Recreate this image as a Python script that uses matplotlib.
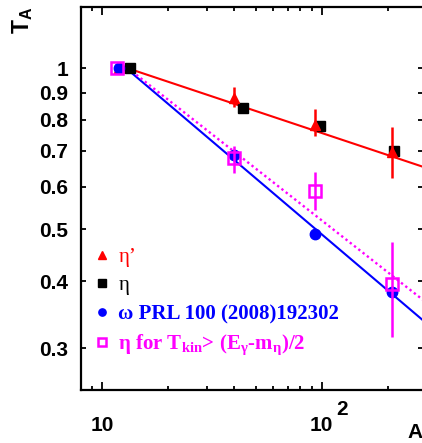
import numpy as np
import matplotlib
matplotlib.use("Agg")
import matplotlib.pyplot as plt
from matplotlib.ticker import FixedLocator, FixedFormatter, NullLocator

plt.rcParams['font.family'] = ['Liberation Sans', 'DejaVu Sans']
plt.rcParams['mathtext.fontset'] = 'custom'
plt.rcParams['mathtext.rm'] = 'Liberation Serif'
plt.rcParams['mathtext.bf'] = 'Liberation Serif:bold'
plt.rcParams['mathtext.sf'] = 'Liberation Sans:bold'

# eta' (red triangles)
A_etap = [12, 40, 93, 208]
T_etap = [1.0, 0.88, 0.783, 0.698]
lo_etap = [1.0, 0.846, 0.745, 0.623]
hi_etap = [1.0, 0.92, 0.839, 0.777]

# eta (black squares)
A_eta = [13.4, 44, 98, 214]
T_eta = [1.0, 0.842, 0.78, 0.70]

# omega PRL 100 (blue circles)
A_omega = [12, 40, 93, 208]
T_omega = [1.0, 0.689, 0.49, 0.381]

# eta for T_kin > (E_g - m_eta)/2 (magenta open squares)
A_cut = [11.7, 40, 93, 208]
T_cut = [1.0, 0.68, 0.59, 0.395]
lo_cut = [1.0, 0.638, 0.542, 0.315]
hi_cut = [1.0, 0.714, 0.639, 0.473]

# fit lines (end points)
fit_red_A, fit_red_T = [13.0, 289], [1.0, 0.654]
fit_blue_A, fit_blue_T = [12.85, 289], [1.0, 0.338]
fit_mag_A, fit_mag_T = [13.1, 289], [1.0, 0.369]

y_ticks = [0.3, 0.4, 0.5, 0.6, 0.7, 0.8, 0.9, 1.0]
y_tick_labels = ['0.3', '0.4', '0.5', '0.6', '0.7', '0.8', '0.9', '1']
x_ticks = [10, 100]
x_tick_base = ['10', '10']
x_tick_exp = ['', '2']
x_minor = [9, 20, 30, 40, 50, 60, 70, 80, 90, 200]

labels = ['η’', 'η', 'ω PRL 100 (2008)192302',
          r'η for T$_{\mathbf{kin}}$> (E$_{\mathbf{γ}}$-m$_{\mathbf{η}}$)/2']

fig = plt.figure(figsize=(4.22, 4.43), dpi=100)
ax = fig.add_axes([81 / 422, 53 / 443, 342 / 422, 383 / 443])
ax.set_xscale('log')
ax.set_yscale('log')

ax.plot(fit_red_A, fit_red_T, color='#ff0000', lw=1.5, zorder=2)
ax.plot(fit_blue_A, fit_blue_T, color='#0000ff', lw=1.5, zorder=2)
ax.plot(fit_mag_A, fit_mag_T, color='#ff00ff', lw=1.7, ls=(0, (1, 1.3)), zorder=2)

T = np.array(T_etap)
h1 = ax.errorbar(A_etap, T_etap, yerr=[T - np.array(lo_etap), np.array(hi_etap) - T],
                 fmt='^', color='#ff0000', ms=7.5, elinewidth=1.8, capsize=0, zorder=4)
h2, = ax.plot(A_eta, T_eta, 's', color='black', ms=7.5, zorder=3)
h3, = ax.plot(A_omega, T_omega, 'o', color='#0000ff', ms=7.5, zorder=5)
T = np.array(T_cut)
h4 = ax.errorbar(A_cut, T_cut, yerr=[T - np.array(lo_cut), np.array(hi_cut) - T],
                 fmt='s', color='#ff00ff', mfc='none', mew=1.8, ms=9, elinewidth=1.8,
                 capsize=0, zorder=6)

ax.set_xlim(8.03, 289)
ax.set_ylim(0.2505, 1.30)

ax.yaxis.set_major_locator(FixedLocator(y_ticks))
ax.yaxis.set_major_formatter(FixedFormatter(y_tick_labels))
ax.yaxis.set_minor_locator(NullLocator())
ax.xaxis.set_major_locator(FixedLocator(x_ticks))
ax.xaxis.set_major_formatter(FixedFormatter(x_tick_base))
ax.xaxis.set_minor_locator(FixedLocator(x_minor))

ax.tick_params(which='both', direction='in', top=True, right=True, width=1.3)
ax.tick_params(axis='x', which='major', length=6, pad=19, labelsize=15)
ax.tick_params(axis='x', which='minor', length=3)
ax.tick_params(axis='y', which='major', length=3.6, pad=9, labelsize=15)
for lab in ax.get_xticklabels() + ax.get_yticklabels():
    lab.set_fontweight('bold')
for s in ax.spines.values():
    s.set_linewidth(1.6)

for xv, e in zip(x_ticks, x_tick_exp):
    if e:
        ax.annotate(e, xy=(xv, 0), xycoords=('data', 'axes fraction'),
                    xytext=(15, -10), textcoords='offset pixels',
                    ha='left', va='top', fontsize=15, fontweight='bold')

ax.set_xlabel('A', fontsize=15, fontweight='bold', ha='right', va='bottom')
ax.xaxis.set_label_coords(1.0, -0.137)
fig.text(10 / 422, 1 - 34 / 443, r'T$_{\mathsf{A}}$', rotation=90, fontsize=16.5,
         fontweight='bold', ha='left', va='bottom')

leg = ax.legend([h1[0], h2, h3, h4[0]], labels, loc='upper left',
                bbox_to_anchor=(0.031, 0.372), frameon=False,
                prop={'family': 'Liberation Serif', 'size': 15},
                markerscale=0.7, handlelength=1.0, handletextpad=0.28,
                borderpad=0, borderaxespad=0, labelspacing=0.42)
colors = ['#ff0000', 'black', '#0000ff', '#ff00ff']
weights = ['normal', 'normal', 'bold', 'bold']
for t, c, w in zip(leg.get_texts(), colors, weights):
    t.set_color(c)
    t.set_fontweight(w)

fig.savefig('out.png', dpi=100)
